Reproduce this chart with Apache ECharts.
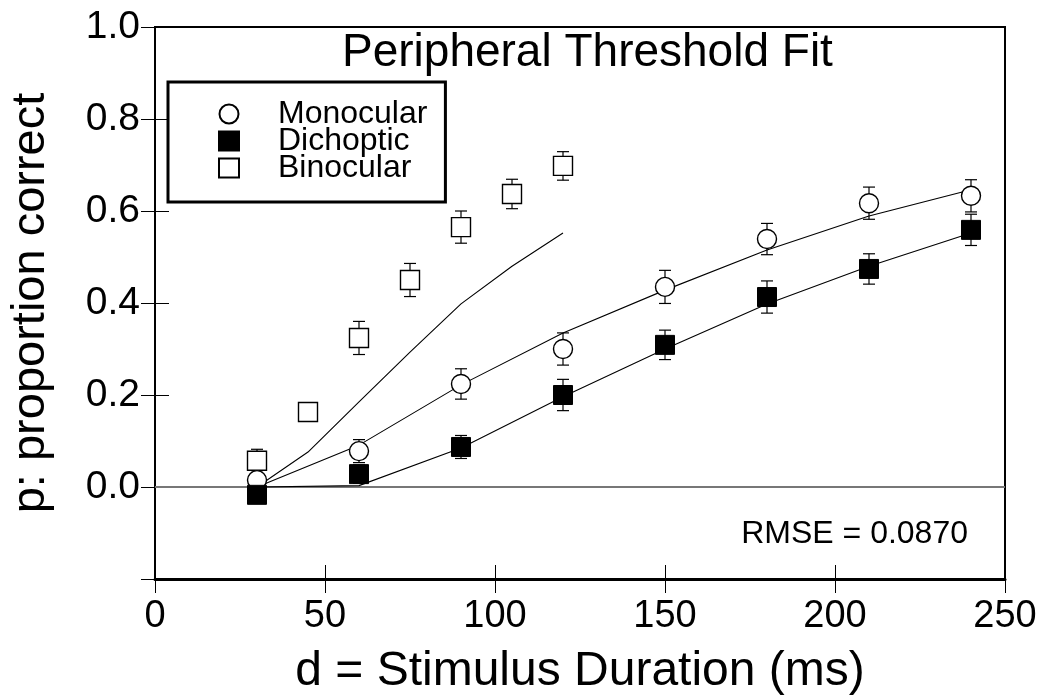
<!DOCTYPE html>
<html>
<head>
<meta charset="utf-8">
<script src="https://cdn.jsdelivr.net/npm/echarts@6/dist/echarts.min.js"></script>
<style>
  html, body { margin: 0; padding: 0; background: #ffffff; }
  #chart { width: 1045px; height: 696px; }
</style>
</head>
<body>
<div id="chart"></div>
<script>
// ---- Data ----
const xTicks = [0, 50, 100, 150, 200, 250];
const yTicks = [-0.2, 0.0, 0.2, 0.4, 0.6, 0.8, 1.0];

const durMono = [30, 60, 90, 120, 150, 180, 210, 240];
const monoP   = [0.015, 0.078, 0.224, 0.300, 0.435, 0.539, 0.617, 0.633];
const monoErr = [0.015, 0.025, 0.033, 0.035, 0.036, 0.034, 0.035, 0.035];
const monoFit = [0.000, 0.091, 0.222, 0.335, 0.428, 0.515, 0.589, 0.646];

const durDich = [30, 60, 90, 120, 150, 180, 210, 240];
const dichP   = [-0.017, 0.028, 0.087, 0.200, 0.309, 0.413, 0.474, 0.559];
const dichErr = [0.010, 0.020, 0.025, 0.034, 0.032, 0.035, 0.033, 0.034];
const dichFit = [0.000, 0.003, 0.085, 0.196, 0.300, 0.398, 0.480, 0.552];

const durBino = [30, 45, 60, 75, 90, 105, 120];
const binoP   = [0.057, 0.163, 0.324, 0.450, 0.565, 0.637, 0.698];
const binoErr = [0.025, 0.004, 0.036, 0.036, 0.035, 0.032, 0.031];
const binoFit = [0.000, 0.076, 0.185, 0.293, 0.398, 0.480, 0.552];

const titleText = 'Peripheral Threshold Fit';
const rmseText = 'RMSE = 0.0870';
const xName = 'd = Stimulus Duration (ms)';
const yName = 'p: proportion correct';

// ---- Helpers ----
const FONT = "'Liberation Sans', Arial, Helvetica, sans-serif";
const zip = (xs, ys) => xs.map((x, i) => [x, ys[i]]);
const errData = (xs, ys, es) => xs.map((x, i) => [x, ys[i] - es[i], ys[i] + es[i]]);

function errorBarSeries(name, data) {
  return {
    type: 'custom',
    name: name + ' err',
    z: 3,
    silent: true,
    renderItem: function (params, api) {
      const x = api.value(0);
      const lo = api.coord([x, api.value(1)]);
      const hi = api.coord([x, api.value(2)]);
      const cap = 6;
      const style = { stroke: '#000', lineWidth: 1.2, fill: null };
      return {
        type: 'group',
        children: [
          { type: 'line', shape: { x1: lo[0], y1: lo[1], x2: hi[0], y2: hi[1] }, style: style },
          { type: 'line', shape: { x1: lo[0] - cap, y1: lo[1], x2: lo[0] + cap, y2: lo[1] }, style: style },
          { type: 'line', shape: { x1: hi[0] - cap, y1: hi[1], x2: hi[0] + cap, y2: hi[1] }, style: style }
        ]
      };
    },
    encode: { x: 0, y: [1, 2] },
    data: data
  };
}

function fitSeries(name, xs, ys, extra) {
  return Object.assign({
    type: 'line',
    name: name,
    data: zip(xs, ys),
    showSymbol: false,
    symbol: 'none',
    silent: true,
    z: 2,
    lineStyle: { color: '#000', width: 1.1 }
  }, extra || {});
}

const chart = echarts.init(document.getElementById('chart'), null, { renderer: 'canvas' });

const option = {
  backgroundColor: '#ffffff',
  animation: false,
  textStyle: { fontFamily: FONT, color: '#000' },
  title: {
    text: titleText,
    left: 337,
    top: 25,
    textStyle: { fontFamily: FONT, fontSize: 46, fontWeight: 'normal', color: '#000' }
  },
  grid: {
    left: 155, right: 40, top: 27, bottom: 117,
    containLabel: false,
    outerBoundsMode: 'none',
    show: true, borderColor: '#000', borderWidth: 2, backgroundColor: 'transparent'
  },
  legend: {
    data: ['Monocular', 'Dichoptic', 'Binocular'],
    orient: 'vertical',
    left: 168,
    top: 82,
    padding: [16, 18, 18, 50],
    itemGap: -5,
    itemWidth: 20,
    itemHeight: 19,
    borderColor: '#000',
    borderWidth: 3,
    backgroundColor: '#fff',
    selectedMode: false,
    textStyle: { fontFamily: FONT, fontSize: 32, color: '#000', lineHeight: 27, padding: [0, 0, 0, 34] },
    z: 10
  },
  xAxis: [
    {
      type: 'value', min: xTicks[0], max: xTicks[xTicks.length - 1], interval: 50,
      name: xName, nameLocation: 'middle', nameGap: 69,
      nameTextStyle: { fontFamily: FONT, fontSize: 48, color: '#000' },
      axisLine: { show: true, onZero: false, lineStyle: { color: '#000', width: 3 } },
      axisTick: { show: true, inside: false, length: 14, lineStyle: { color: '#000', width: 1 } },
      axisLabel: { fontFamily: FONT, fontSize: 38, color: '#000', margin: 19 },
      splitLine: { show: false }
    },
    {
      type: 'value', min: xTicks[0], max: xTicks[xTicks.length - 1], interval: 50,
      position: 'bottom',
      axisLine: { show: false, onZero: false },
      axisTick: { show: true, inside: true, length: 14, lineStyle: { color: '#000', width: 1 } },
      axisLabel: { show: false },
      splitLine: { show: false }
    }
  ],
  yAxis: [
    {
      type: 'value', min: yTicks[0], max: yTicks[yTicks.length - 1], interval: 0.2,
      name: yName, nameLocation: 'middle', nameGap: 100, nameRotate: 90,
      nameTextStyle: { fontFamily: FONT, fontSize: 47, color: '#000' },
      axisLine: { show: true, onZero: false, lineStyle: { color: '#000', width: 2 } },
      axisTick: { show: true, inside: false, length: 14, lineStyle: { color: '#000', width: 1 } },
      axisLabel: {
        fontFamily: FONT, fontSize: 39, color: '#000', margin: 15,
        formatter: v => (v < -0.1 ? '' : Math.abs(v).toFixed(1))
      },
      splitLine: { show: false }
    },
    {
      type: 'value', min: yTicks[0], max: yTicks[yTicks.length - 1], interval: 0.2,
      position: 'left',
      axisLine: { show: false, onZero: false },
      axisTick: { show: true, inside: true, length: 14, lineStyle: { color: '#000', width: 1 } },
      axisLabel: { show: false },
      splitLine: { show: false }
    }
  ],
  graphic: [
    {
      type: 'text', right: 77, top: 518, z: 5,
      style: { text: rmseText, font: '32px ' + FONT, fill: '#000' }
    }
  ],
  series: [
    fitSeries('Dichoptic fit', durDich, dichFit, {
      markLine: {
        silent: true, symbol: 'none', label: { show: false },
        lineStyle: { color: '#777', width: 2, type: 'solid' },
        data: [{ yAxis: 0 }],
        z: 1
      }
    }),
    fitSeries('Monocular fit', durMono, monoFit),
    fitSeries('Binocular fit', durBino, binoFit),
    errorBarSeries('Monocular', errData(durMono, monoP, monoErr)),
    errorBarSeries('Dichoptic', errData(durDich, dichP, dichErr)),
    errorBarSeries('Binocular', errData(durBino, binoP, binoErr)),
    {
      type: 'scatter', name: 'Binocular', data: zip(durBino, binoP),
      symbol: 'rect', symbolSize: 19, symbolKeepAspect: true, z: 4,
      itemStyle: { color: '#fff', borderColor: '#000', borderWidth: 1.4, opacity: 1 }
    },
    {
      type: 'scatter', name: 'Monocular', data: zip(durMono, monoP),
      symbol: 'circle', symbolSize: 19, symbolKeepAspect: true, z: 4,
      itemStyle: { color: '#fff', borderColor: '#000', borderWidth: 1.4, opacity: 1 }
    },
    {
      type: 'scatter', name: 'Dichoptic', data: zip(durDich, dichP),
      symbol: 'rect', symbolSize: 19, symbolKeepAspect: true, z: 4,
      itemStyle: { color: '#000', borderColor: '#000', borderWidth: 1, opacity: 1 }
    }
  ]
};

chart.setOption(option);
</script>
</body>
</html>
